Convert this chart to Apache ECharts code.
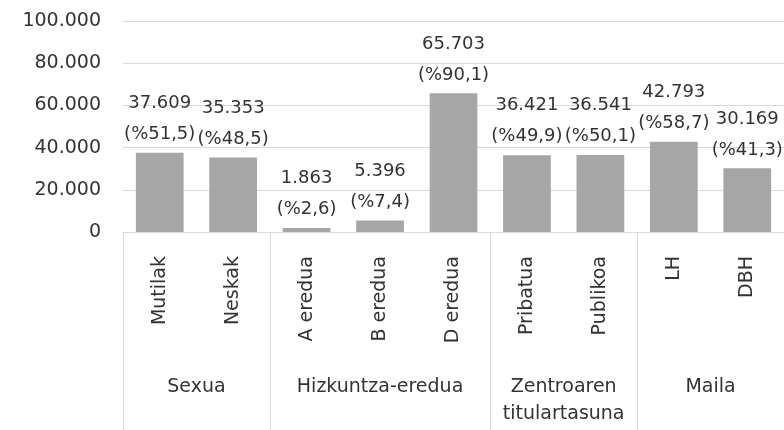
<!DOCTYPE html>
<html>
<head>
<meta charset="utf-8">
<script src="https://cdn.jsdelivr.net/npm/echarts@6/dist/echarts.min.js"></script>
<style>
html, body { margin: 0; padding: 0; background: #fff; }
#chart { width: 784px; height: 430px; }
</style>
</head>
<body>
<div id="chart"></div>
<script>
// kategoriak eta balioak
var categories = ['Mutilak', 'Neskak', 'A eredua', 'B eredua', 'D eredua', 'Pribatua', 'Publikoa', 'LH', 'DBH']
var values = [37609, 35353, 1863, 5396, 65703, 36421, 36541, 42793, 30169]
var percents = [51.5, 48.5, 2.6, 7.4, 90.1, 49.9, 50.1, 58.7, 41.3]
var groupNames = ['Sexua', 'Hizkuntza-eredua', 'Zentroaren\ntitulartasuna', 'Maila']
var groupSizes = [2, 3, 2, 2]
var yTicks = [0, 20000, 40000, 60000, 80000, 100000]

var fontFamily = 'DejaVu Sans'
var textColor = '#333333'
var lineColor = '#d9d9d9'

function fmtNum(v) {
    return String(v).replace(/\B(?=(\d{3})+(?!\d))/g, '.')
}
function fmtPct(p) {
    return '(%' + p.toFixed(1).replace('.', ',') + ')'
}

// second axis: half-category points, group boundaries and centers
var halfCount = categories.length * 2
var groupAxisData = []
var boundaries = [0]
for (var i = 0; i <= halfCount; i++) groupAxisData.push('')
var pos = 0
groupSizes.forEach(function (size, gi) {
    groupAxisData[pos * 2 + size] = groupNames[gi]
    pos += size
    boundaries.push(pos * 2)
})

var myChart = echarts.init(document.getElementById('chart'))
var options = {
    animation: false,
    grid: {
        left: 123,
        right: 0,
        top: 21,
        bottom: 198,
        outerBoundsMode: 'none'
    },
    xAxis: [{
        type: 'category',
        data: categories,
        position: 'bottom',
        axisLine: { lineStyle: { color: lineColor } },
        axisTick: { show: false },
        axisLabel: {
            interval: 0,
            rotate: 90,
            margin: 24,
            color: textColor,
            fontSize: 19,
            fontFamily: fontFamily
        }
    }, {
        type: 'category',
        data: groupAxisData,
        position: 'bottom',
        boundaryGap: false,
        axisLine: { show: false },
        axisTick: {
            show: true,
            length: 200,
            interval: function (index) {
                return boundaries.indexOf(index) >= 0
            },
            lineStyle: { color: lineColor }
        },
        axisLabel: {
            interval: 0,
            margin: 142,
            color: textColor,
            fontSize: 19,
            lineHeight: 27,
            fontFamily: fontFamily,
            verticalAlign: 'top'
        }
    }],
    yAxis: {
        type: 'value',
        min: yTicks[0],
        max: yTicks[yTicks.length - 1],
        interval: 20000,
        axisLine: { show: false },
        axisTick: { show: false },
        splitLine: { lineStyle: { color: lineColor } },
        axisLabel: {
            margin: 22,
            color: textColor,
            fontSize: 19,
            fontFamily: fontFamily,
            formatter: function (v) { return fmtNum(v) }
        }
    },
    series: [{
        type: 'bar',
        data: values,
        barCategoryGap: '35%',
        itemStyle: { color: '#a6a6a6' },
        label: {
            show: true,
            position: 'top',
            distance: 3,
            color: textColor,
            fontSize: 18,
            lineHeight: 31,
            fontFamily: fontFamily,
            formatter: function (p) {
                return fmtNum(values[p.dataIndex]) + '\n' + fmtPct(percents[p.dataIndex])
            }
        }
    }]
}
myChart.setOption(options)
</script>
</body>
</html>
